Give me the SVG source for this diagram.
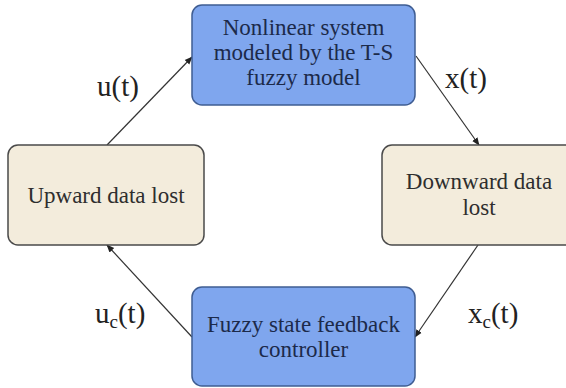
<svg xmlns="http://www.w3.org/2000/svg" width="566" height="388" viewBox="0 0 566 388">
  <style>
    .blue { fill: #7fa6ee; stroke: #3f5d92; stroke-width: 1.5; }
    .beige { fill: #f3ecdc; stroke: #4a4a4a; stroke-width: 1.5; }
    .t { font-family: "Liberation Serif", "Times New Roman", serif; font-size: 23px; text-anchor: middle; }
    .tb { fill: #1c2a4a; }
    .tg { fill: #2e2e2e; }
    .lbl { font-family: "Liberation Serif", "Times New Roman", serif; font-size: 29px; fill: #222; }
    .sub { font-size: 19px; }
    .edge { stroke: #333; stroke-width: 1.2; fill: none; marker-end: url(#arrow); }
  </style>
  <defs>
    <marker id="arrow" viewBox="0 0 10 10" refX="9" refY="5" markerWidth="8" markerHeight="8" markerUnits="userSpaceOnUse" orient="auto">
      <path d="M0,1 L10,5 L0,9 z" fill="#222"/>
    </marker>
  </defs>
  <rect width="566" height="388" fill="#ffffff"/>

  <!-- connectors -->
  <g id="connectors">
    <line class="edge" x1="107" y1="145" x2="192" y2="57"/>
    <line class="edge" x1="416" y1="56" x2="479" y2="145"/>
    <line class="edge" x1="478" y1="245" x2="415" y2="337"/>
    <line class="edge" x1="192" y1="337" x2="107" y2="245"/>
    <text class="lbl" x="97" y="96">u(t)</text>
    <text class="lbl" x="445" y="88">x(t)</text>
    <text class="lbl" x="95" y="323">u<tspan class="sub" dy="5">c</tspan><tspan dy="-5">(t)</tspan></text>
    <text class="lbl" x="468" y="323">x<tspan class="sub" dy="5">c</tspan><tspan dy="-5">(t)</tspan></text>
  </g>

  <!-- plant -->
  <g id="plant">
    <rect class="blue" x="192" y="5" width="223" height="100" rx="10"/>
    <text class="t tb" x="303.5" y="35">Nonlinear system</text>
    <text class="t tb" x="303.5" y="60">modeled by the T-S</text>
    <text class="t tb" x="303.5" y="85">fuzzy model</text>
  </g>

  <!-- downward channel -->
  <g id="downward">
    <rect class="beige" x="382" y="145" width="196" height="100" rx="10"/>
    <text class="t tg" x="479" y="189">Downward data</text>
    <text class="t tg" x="479" y="215">lost</text>
  </g>

  <!-- controller -->
  <g id="controller">
    <rect class="blue" x="192" y="287" width="223" height="99" rx="10"/>
    <text class="t tb" x="303.5" y="332">Fuzzy state feedback</text>
    <text class="t tb" x="303.5" y="357">controller</text>
  </g>

  <!-- upward channel -->
  <g id="upward">
    <rect class="beige" x="8" y="145" width="196" height="100" rx="10"/>
    <text class="t tg" x="106" y="203">Upward data lost</text>
  </g>
</svg>
